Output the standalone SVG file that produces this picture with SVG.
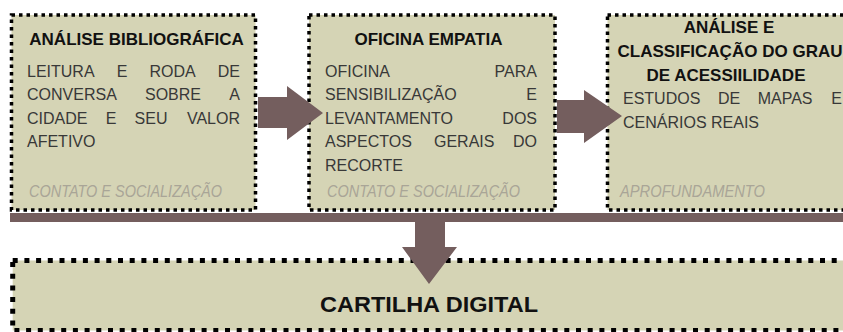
<svg xmlns="http://www.w3.org/2000/svg" width="843" height="332" viewBox="0 0 843 332">
<style>
.box{fill:#d5d4b5;stroke:#000;stroke-width:3.5;stroke-dasharray:3.5 4}
.bigbox{fill:#d5d4b5;stroke:#000;stroke-width:5;stroke-dasharray:5 6.7}
.title{font-family:"Liberation Sans",Arial,sans-serif;font-weight:bold;font-size:17px;fill:#111;text-anchor:middle}
.body{font-family:"Liberation Sans",Arial,sans-serif;font-size:16px;fill:#383838}
.end{text-anchor:end}
.foot{font-family:"Liberation Sans",Arial,sans-serif;font-style:italic;font-size:16px;fill:#a9a597}
.arrow{fill:#745e5e}
</style>
<rect width="843" height="332" fill="#fff"/>
<g id="node-analise-bibliografica">
<rect class="box" x="11.5" y="15" width="244" height="195"/>
<text class="title" x="136.5" y="45">ANÁLISE BIBLIOGRÁFICA</text>
<text class="body" y="77"><tspan x="27">LEITURA</tspan><tspan x="116.7">E</tspan><tspan x="149.5">RODA</tspan></text>
<text class="body end" x="240" y="77">DE</text>
<text class="body" y="100.4"><tspan x="27">CONVERSA</tspan><tspan x="145">SOBRE</tspan></text>
<text class="body end" x="240" y="100.4">A</text>
<text class="body" y="123.8"><tspan x="27">CIDADE</tspan><tspan x="105.7">E</tspan><tspan x="134.6">SEU</tspan></text>
<text class="body end" x="240" y="123.8">VALOR</text>
<text class="body" x="27" y="147.2">AFETIVO</text>
<text class="foot" x="29" y="197" textLength="193" lengthAdjust="spacingAndGlyphs">CONTATO E SOCIALIZAÇÃO</text>
</g>
<g id="node-oficina-empatia">
<rect class="box" x="309" y="15" width="246" height="195"/>
<text class="title" x="428.5" y="45">OFICINA EMPATIA</text>
<text class="body" x="325" y="77">OFICINA</text>
<text class="body end" x="537" y="77">PARA</text>
<text class="body" x="325" y="100.4">SENSIBILIZAÇÃO</text>
<text class="body end" x="537" y="100.4">E</text>
<text class="body" x="325" y="123.8">LEVANTAMENTO</text>
<text class="body end" x="537" y="123.8">DOS</text>
<text class="body" y="147.2"><tspan x="325">ASPECTOS</tspan><tspan x="434">GERAIS</tspan></text>
<text class="body end" x="537" y="147.2">DO</text>
<text class="body" x="325" y="170.6">RECORTE</text>
<text class="foot" x="327" y="197" textLength="193" lengthAdjust="spacingAndGlyphs">CONTATO E SOCIALIZAÇÃO</text>
</g>
<g id="node-analise-classificacao">
<rect class="box" x="607.5" y="15" width="250" height="195"/>
<text class="title" x="729" y="33.3">ANÁLISE E</text>
<text class="title" x="730" y="57" textLength="225" lengthAdjust="spacingAndGlyphs">CLASSIFICAÇÃO DO GRAU</text>
<text class="title" x="726" y="80.5">DE ACESSIILIDADE</text>
<text class="body" y="104"><tspan x="623">ESTUDOS</tspan><tspan x="717.9">DE</tspan><tspan x="757.7">MAPAS</tspan></text>
<text class="body end" x="842" y="104">E</text>
<text class="body" x="623" y="128">CENÁRIOS REAIS</text>
<text class="foot" x="620" y="197" textLength="145" lengthAdjust="spacingAndGlyphs">APROFUNDAMENTO</text>
</g>
<g id="node-cartilha-digital">
<rect class="bigbox" x="12.7" y="260.5" width="840" height="70"/>
<text class="title" x="429" y="312" style="font-size:22px" textLength="218" lengthAdjust="spacingAndGlyphs">CARTILHA DIGITAL</text>
</g>
<g id="connectors">
<polygon class="arrow" points="258,97 287,97 287,86 323,113 287,140 287,128 258,128"/>
<polygon class="arrow" points="557,100 584,100 584,90 622,116 584,143 584,133 557,133"/>
<rect class="arrow" x="10" y="213" width="833" height="9"/>
<polygon class="arrow" points="415,222 445,222 445,247 457,247 429,284 402,247 415,247"/>
</g>
</svg>
